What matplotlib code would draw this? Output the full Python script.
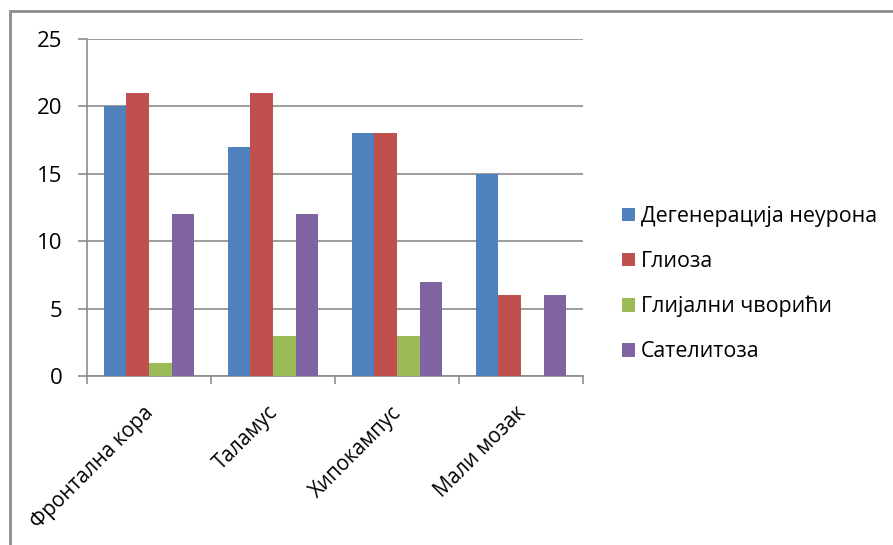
import numpy as np
import matplotlib.pyplot as plt
from matplotlib.patches import Rectangle
from matplotlib.transforms import ScaledTranslation

categories = ["Фронтална кора", "Таламус", "Хипокампус", "Мали мозак"]
series_names = ["Дегенерација неурона", "Глиоза", "Глијални чворићи", "Сателитоза"]
degeneracija = [20, 17, 18, 15]
glioza = [21, 21, 18, 6]
cvorici = [1, 3, 3, 0]
satelitoza = [12, 12, 7, 6]
colors = ["#4F81BD", "#C0504D", "#9BBB59", "#8064A2"]

plt.rcParams['font.family'] = ['Open Sans', 'DejaVu Sans']

W, H = 893, 545
fig = plt.figure(figsize=(W / 100, H / 100), dpi=100)
ax = fig.add_axes([87 / W, 1 - 376 / H, (583 - 87) / W, (376 - 39) / H])

values = [degeneracija, glioza, cvorici, satelitoza]
x = np.arange(len(categories))
bw = 1 / 5.5
for i, (vals, name, c) in enumerate(zip(values, series_names, colors)):
    ax.bar(x + (i - 1.5) * bw, vals, width=bw, color=c, label=name, zorder=3)

ax.set_xlim(-0.5, len(categories) - 0.5)
ax.set_ylim(0, 25)
ax.set_yticks(range(0, 26, 5))
ax.yaxis.grid(True, color="#8c8c8c", linewidth=1.2, zorder=0)
for s in ["top", "right"]:
    ax.spines[s].set_visible(False)
ax.spines["left"].set_color("#8c8c8c")
ax.spines["bottom"].set_color("#8c8c8c")
ax.spines["left"].set_linewidth(1.2)
ax.spines["bottom"].set_linewidth(1.2)

ax.set_xticks(np.arange(-0.5, len(categories) + 0.5, 1))
ax.set_xticklabels([])
ax.set_xticks(x, minor=True)
ax.set_xticklabels(categories, minor=True, rotation=45, ha="right",
                   rotation_mode="anchor", fontsize=14.8)
ax.tick_params(axis="x", which="major", length=6, color="#8c8c8c", width=1.2)
ax.tick_params(axis="x", which="minor", length=0, pad=16)
ax.tick_params(axis="y", length=6.5, color="#8c8c8c", width=1.2, labelsize=16, pad=11)
# nudge the slanted labels so they end where the original ones do
shift = ScaledTranslation(-6 / 100, -4 / 100, fig.dpi_scale_trans)
for lab in ax.get_xticklabels(minor=True):
    lab.set_transform(lab.get_transform() + shift)

leg = fig.legend(loc="upper left", bbox_to_anchor=(622 / W, 1 - 206 / H),
                 frameon=False, fontsize=15.4, handlelength=0.6, handleheight=0.6,
                 handletextpad=0.3, labelspacing=1.12, borderaxespad=0, borderpad=0)

fig.patches.append(Rectangle((10 / W, -0.1), 1.2, 1 - 11 / H + 0.1,
                             transform=fig.transFigure, fill=False,
                             edgecolor="#8c8c8c", linewidth=2))

fig.savefig("out.png", dpi=100)
